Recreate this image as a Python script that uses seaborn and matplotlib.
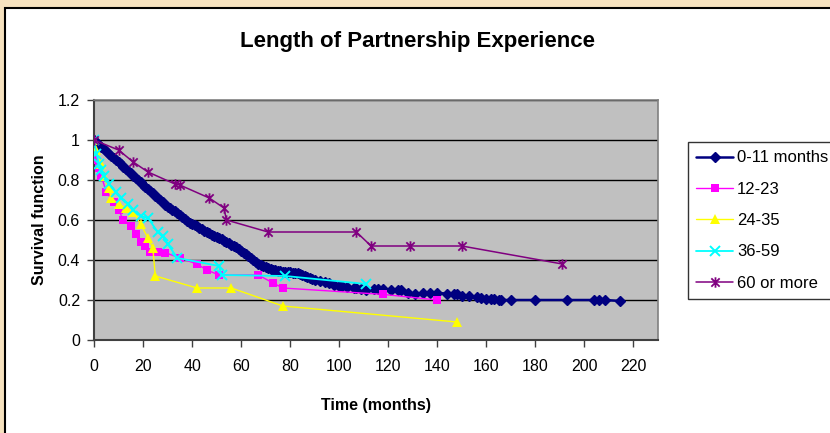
import matplotlib
matplotlib.use("Agg")
import matplotlib.pyplot as plt
import seaborn as sns
import numpy as np
from matplotlib.path import Path
from matplotlib.patches import Rectangle
from matplotlib.ticker import FuncFormatter

# ---------------- data ----------------
title = "Length of Partnership Experience"
xlabel = "Time (months)"
ylabel = "Survival function"
series_names = ["0-11 months", "12-23", "24-35", "36-59", "60 or more"]

t_0_11 = [0, 1, 2, 3, 4, 5, 6, 7, 8, 9, 10,
          11, 12, 13, 14, 15, 16, 17, 18, 19, 20,
          21, 22, 23, 24, 25, 26, 27, 28, 29, 30,
          31, 32, 33, 34, 35, 36, 37, 38, 39, 40,
          41, 42, 43, 44, 45, 46, 47, 48, 49, 50,
          51, 52, 53, 54, 55, 56, 57, 58, 59, 60,
          61, 62, 63, 64, 65, 66, 67, 68, 69, 70,
          71, 72, 73, 74, 75, 76, 77, 78, 79, 80,
          81, 82, 83, 84, 85, 86, 87, 88, 89, 90,
          92, 94, 96, 98, 100, 101, 103, 106, 107, 109, 111, 114, 116, 118,
          121, 124, 125, 128, 131, 134, 137, 140, 144, 147, 148, 150, 153,
          156, 158, 160, 162, 163, 165, 166, 170, 180, 193, 204, 206, 208.5, 214.5]
s_0_11 = [1.0, 0.99, 0.975, 0.965, 0.955, 0.945, 0.93, 0.92, 0.91, 0.9, 0.89,
          0.88, 0.865, 0.855, 0.845, 0.835, 0.82, 0.81, 0.80, 0.79, 0.775,
          0.765, 0.755, 0.745, 0.735, 0.72, 0.71, 0.70, 0.69, 0.675, 0.665,
          0.66, 0.65, 0.645, 0.635, 0.625, 0.615, 0.605, 0.595, 0.585, 0.58,
          0.575, 0.57, 0.56, 0.555, 0.545, 0.54, 0.535, 0.525, 0.52, 0.515,
          0.51, 0.505, 0.495, 0.49, 0.485, 0.475, 0.47, 0.465, 0.455, 0.445,
          0.435, 0.43, 0.42, 0.41, 0.40, 0.39, 0.38, 0.375, 0.37, 0.365,
          0.36, 0.355, 0.35, 0.35, 0.345, 0.345, 0.34, 0.34, 0.34, 0.338,
          0.336, 0.335, 0.335, 0.33, 0.325, 0.32, 0.315, 0.31, 0.305, 0.30,
          0.295, 0.288, 0.283, 0.277, 0.27, 0.268, 0.265, 0.262, 0.26, 0.255, 0.25, 0.255, 0.255, 0.255,
          0.252, 0.25, 0.248, 0.235, 0.232, 0.233, 0.235, 0.235, 0.232, 0.23, 0.228, 0.22, 0.218,
          0.215, 0.212, 0.207, 0.205, 0.203, 0.2, 0.2, 0.2, 0.2, 0.2, 0.2, 0.2, 0.2, 0.195]

t_12_23 = [0, 2, 3, 5, 8, 10, 12, 15, 17, 19, 21, 23, 26, 29, 35, 42, 46, 51, 67, 73, 77, 118, 140]
s_12_23 = [0.9, 0.86, 0.82, 0.74, 0.69, 0.65, 0.6, 0.57, 0.53, 0.49, 0.47, 0.44, 0.44, 0.437,
           0.41, 0.38, 0.35, 0.325, 0.325, 0.285, 0.26, 0.228, 0.2]

t_24_35 = [0, 1, 3, 4, 6, 7, 10, 13, 16, 19, 22, 24, 25, 42, 56, 77, 148]
s_24_35 = [1.0, 0.95, 0.88, 0.82, 0.76, 0.71, 0.68, 0.66, 0.64, 0.58, 0.51, 0.46, 0.32,
           0.26, 0.26, 0.17, 0.09]

t_36_59 = [0, 1, 2, 3, 4, 6, 9, 11, 14, 16, 19, 22, 26, 28, 30, 34, 51, 52, 78, 111]
s_36_59 = [1.0, 0.93, 0.88, 0.85, 0.82, 0.78, 0.74, 0.71, 0.68, 0.65, 0.62, 0.61, 0.54,
           0.52, 0.48, 0.41, 0.37, 0.325, 0.32, 0.28]

t_60 = [0, 10, 16, 22, 33, 35, 47, 53, 54, 71, 107, 113, 129, 150, 191]
s_60 = [1.0, 0.95, 0.89, 0.84, 0.78, 0.775, 0.71, 0.66, 0.60, 0.54, 0.54, 0.47, 0.47, 0.47, 0.38]

x_ticks = [0, 20, 40, 60, 80, 100, 120, 140, 160, 180, 200, 220]
y_ticks = [0, 0.2, 0.4, 0.6, 0.8, 1.0, 1.2]

# ---------------- style ----------------
sns.set_style("white")
plt.rcParams["font.family"] = ["Liberation Sans", "DejaVu Sans"]
plt.rcParams["text.color"] = "black"
plt.rcParams["axes.labelcolor"] = "black"

W, H = 830, 433
fig = plt.figure(figsize=(W / 100, H / 100), dpi=100, facecolor="#F6E2BF")
# white chart area with black frame
fig.patches.append(Rectangle((5 / W, -0.05), 1.2, 1 - 8 / H + 0.05,
                             transform=fig.transFigure, facecolor="white",
                             edgecolor="black", linewidth=1.5, zorder=-10))

ax = fig.add_axes([94 / W, 1 - 340 / H, (658 - 94) / W, (340 - 100) / H])
ax.set_facecolor("#C0C0C0")

asterisk = Path([(-1, -1), (1, 1), (-1, 1), (1, -1), (0, -1.25), (0, 1.25)],
                [Path.MOVETO, Path.LINETO, Path.MOVETO, Path.LINETO, Path.MOVETO, Path.LINETO])

specs = [
    (t_0_11, s_0_11, "#000080", dict(marker="D", markersize=5.5, markeredgewidth=1.0,
                                     markeredgecolor="#000080"), 1.8),
    (t_12_23, s_12_23, "#FF00FF", dict(marker="s", markersize=6, markeredgewidth=0), 1.0),
    (t_24_35, s_24_35, "#FFFF00", dict(marker="^", markersize=7.5, markeredgewidth=0), 1.0),
    (t_36_59, s_36_59, "#00FFFF", dict(marker="x", markersize=6.5, markeredgewidth=1.4,
                                       markeredgecolor="#00FFFF"), 1.3),
    (t_60, s_60, "#800080", dict(marker=asterisk, markersize=7.5, markeredgewidth=1.3,
                                 markeredgecolor="#800080"), 1.1),
]
for (tx, sy, col, mk, lw), name in zip(specs, series_names):
    sns.lineplot(x=tx, y=sy, ax=ax, color=col, linewidth=lw, sort=False,
                 estimator=None, label=name, zorder=3, **mk)

ax.set_xlim(0, 230)
ax.set_ylim(0, 1.2)
ax.set_xticks(x_ticks)
ax.set_yticks(y_ticks)
ax.yaxis.set_major_formatter(FuncFormatter(lambda v, p: f"{v:g}"))
ax.set_axisbelow(True)
ax.yaxis.grid(True, color="black", linewidth=1.0)
ax.xaxis.grid(False)

for side in ["top", "right"]:
    ax.spines[side].set_color("#808080")
    ax.spines[side].set_linewidth(1.2)
for side in ["left", "bottom"]:
    ax.spines[side].set_color("#404040")
    ax.spines[side].set_linewidth(1.5)

ax.tick_params(axis="both", direction="out", length=5, width=1, color="#404040",
               labelsize=11.5, labelcolor="black", left=True, bottom=True)
ax.tick_params(axis="x", pad=9)
ax.tick_params(axis="y", pad=5)

ax.set_xlabel(xlabel, fontsize=11.5, fontweight="bold", labelpad=17)
ax.set_ylabel(ylabel, fontsize=11.5, fontweight="bold", labelpad=8)
fig.text(417 / W, 1 - 42 / H, title, ha="center", va="center",
         fontsize=16, fontweight="bold")

handles, labels = ax.get_legend_handles_labels()
ax.get_legend().remove()
leg = fig.legend(handles, labels, loc="upper left",
                 bbox_to_anchor=(688 / W, 1 - 142 / H), frameon=True,
                 fancybox=False, edgecolor="black", facecolor="white",
                 fontsize=12, handlelength=2.2, handletextpad=0.25,
                 labelspacing=0.98, borderpad=0.5, borderaxespad=0)
leg.get_frame().set_linewidth(1.0)

fig.savefig("out.png", dpi=100, facecolor=fig.get_facecolor())
